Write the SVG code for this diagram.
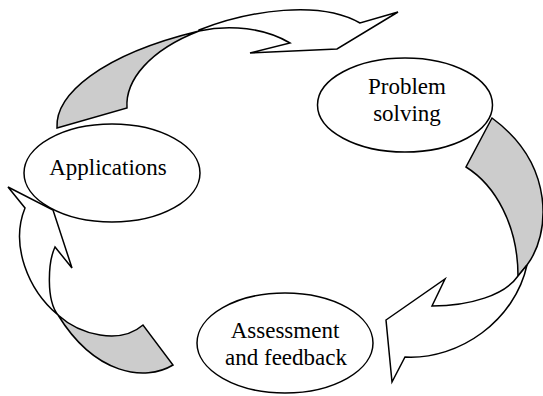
<svg xmlns="http://www.w3.org/2000/svg" width="543" height="396" viewBox="0 0 543 396">
<style>
.node{fill:#ffffff;stroke:#000000;stroke-width:1.5}
.lbl{font-family:"Liberation Serif","Times New Roman",serif;font-size:23px;fill:#000000;text-anchor:middle}
.back{fill:#cccccc;stroke:#000000;stroke-width:1.5;stroke-linejoin:miter}
.front{fill:#ffffff;stroke:#000000;stroke-width:1.5;stroke-linejoin:miter}
</style>
<rect width="543" height="396" fill="#ffffff"/>
<g id="node-applications">
<ellipse class="node" cx="112" cy="173" rx="88" ry="49"/>
<text class="lbl" x="108" y="175">Applications</text>
</g>
<g id="node-problem-solving">
<ellipse class="node" cx="405" cy="105" rx="87.5" ry="47"/>
<text class="lbl" x="407" y="94">Problem</text>
<text class="lbl" x="407" y="121">solving</text>
</g>
<g id="node-assessment">
<ellipse class="node" cx="285" cy="343" rx="88" ry="50"/>
<text class="lbl" x="285" y="338">Assessment</text>
<text class="lbl" x="286" y="365">and feedback</text>
</g>
<g id="connectors">
<g id="arrow-applications-to-problem">
<path class="back" d="M57,128 L127,108 C125,80 150,50 199,31 C100,55 55,95 57,128 Z"/>
<path class="front" d="M199,30 C250,10 320,0 360,23 L398,12 L337,49 L250,53 L290,43 C265,28 230,24 199,31 Z"/>
</g>
<g id="arrow-problem-to-assessment">
<path class="back" d="M492,118 L466,167 C495,185 518,225 518,276 L527,265 C550,235 556,165 492,118 Z"/>
<path class="front" d="M527,265 C515,320 460,360 405,357 L392,382 L386,320 L445,279 L432,306 C470,306 505,295 518,276 Z"/>
</g>
<g id="arrow-assessment-to-applications">
<path class="back" d="M58,315 C80,335 120,345 143,325 L173,365 C145,382 95,375 58,315 Z"/>
<path class="front" d="M58,315 C28,290 10,245 25,208 L8,187 L53,210 L72,268 L55,247 C48,262 46,300 58,315 Z"/>
</g>
</g>
</svg>
